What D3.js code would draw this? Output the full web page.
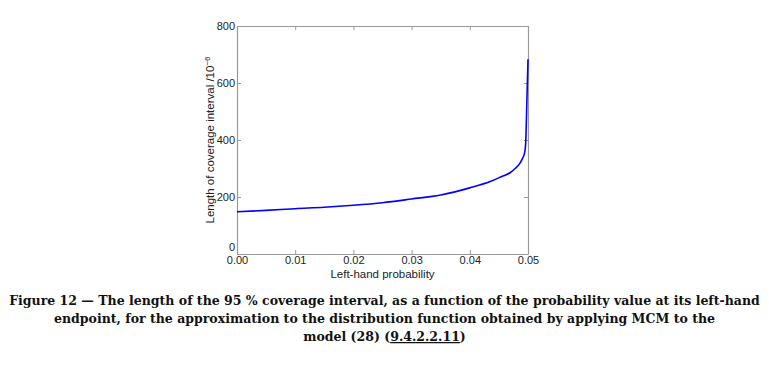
<!DOCTYPE html>
<html>
<head>
<meta charset="utf-8">
<script src="https://cdn.jsdelivr.net/npm/d3@7"></script>
<style>
  body { margin: 0; background: #fff; }
  #viz { width: 769px; height: 380px; }
</style>
</head>
<body>
<div id="viz"></div>
<script>
// -----------------------------
// DATA
// -----------------------------
const probs   = [0, 0.005, 0.01, 0.015, 0.02, 0.025, 0.03, 0.035, 0.04, 0.0435,
                 0.0455, 0.0469, 0.0478, 0.0486, 0.049, 0.0493, 0.0495, 0.0496, 0.0498, 0.05];
const lengths = [148, 153, 159, 164, 171, 180, 193, 207, 232, 254,
                 272, 285, 300, 318, 333, 347, 365, 389, 530, 683];
const xTicks = [0, 0.01, 0.02, 0.03, 0.04, 0.05];
const yTicks = [0, 200, 400, 600, 800];
const captionLines = [
  "Figure 12 — The length of the 95 % coverage interval, as a function of the probability value at its left-hand",
  "endpoint, for the approximation to the distribution function obtained by applying MCM to the",
  "model (28) ("
];
const captionRef = "9.4.2.2.11";

const width = 769, height = 380;
const plot = { left: 237, right: 528, top: 26, bottom: 254 };

const svg = d3.select("#viz")
  .append("svg")
  .attr("width", width)
  .attr("height", height)
  .style("display", "block");

const x = d3.scaleLinear().domain([0, 0.05]).range([plot.left, plot.right]);
const y = d3.scaleLinear().domain([0, 800]).range([plot.bottom, plot.top]);

const axisColor = "#9a9a9a";
const font = "'Liberation Sans', Arial, sans-serif";

// -----------------------------
// AXES (ticks inside, MATLAB style)
// -----------------------------
const gx = svg.append("g")
  .attr("transform", `translate(0,${plot.bottom})`)
  .call(d3.axisBottom(x).tickValues(xTicks).tickFormat(d3.format(".2f")).tickSizeInner(-4).tickSizeOuter(0).tickPadding(4));

const gy = svg.append("g")
  .attr("transform", `translate(${plot.left},0)`)
  .call(d3.axisLeft(y).tickValues(yTicks).tickSizeInner(-4).tickSizeOuter(0).tickPadding(2));

const gxTop = svg.append("g")
  .attr("transform", `translate(0,${plot.top})`)
  .call(d3.axisTop(x).tickValues(xTicks).tickFormat("").tickSizeInner(-4).tickSizeOuter(0));

const gyRight = svg.append("g")
  .attr("transform", `translate(${plot.right},0)`)
  .call(d3.axisRight(y).tickValues(yTicks).tickFormat("").tickSizeInner(-4).tickSizeOuter(0));

[gx, gy, gxTop, gyRight].forEach(g => {
  g.select(".domain").attr("stroke", axisColor).attr("stroke-width", 1.2);
  g.selectAll(".tick line").attr("stroke", axisColor);
  g.selectAll("text")
    .attr("fill", "#222")
    .style("font-family", font)
    .style("font-size", "11px");
});
// "0" sits just above the "0.00" label
gy.selectAll(".tick text").filter(d => d === 0).attr("dy", "-0.3em");
gx.selectAll(".tick text").attr("dy", "0.5em");

// -----------------------------
// CURVE
// -----------------------------
const data = probs.map((p, i) => ({ p, v: lengths[i] }));
const line = d3.line()
  .x(d => x(d.p))
  .y(d => y(d.v))
  .curve(d3.curveMonotoneX);

svg.append("path")
  .datum(data)
  .attr("fill", "none")
  .attr("stroke", "#0000ff")
  .attr("stroke-width", 1.6)
  .attr("d", line);

// -----------------------------
// AXIS TITLES
// -----------------------------
svg.append("text")
  .attr("x", (plot.left + plot.right) / 2)
  .attr("y", 278)
  .attr("text-anchor", "middle")
  .style("font-family", font)
  .style("font-size", "11.5px")
  .attr("fill", "#222")
  .text("Left-hand probability");

const yTitle = svg.append("text")
  .attr("transform", `translate(214,${(plot.top + plot.bottom) / 2}) rotate(-90)`)
  .attr("text-anchor", "middle")
  .style("font-family", font)
  .style("font-size", "11.5px")
  .attr("fill", "#222");
yTitle.append("tspan").text("Length of coverage interval /10");
yTitle.append("tspan").attr("dy", "-0.45em").style("font-size", "8px").text("−6");

// -----------------------------
// CAPTION
// -----------------------------
const capFont = "'DejaVu Serif', 'Liberation Serif', serif";
const capY = [305, 323, 341];
const capTexts = captionLines.map((t, i) => {
  const txt = svg.append("text")
    .attr("x", width / 2)
    .attr("y", capY[i])
    .attr("text-anchor", "middle")
    .style("font-family", capFont)
    .style("font-size", "12px")
    .style("font-weight", "bold")
    .attr("fill", "#111");
  txt.append("tspan").text(t);
  if (i === 2) {
    txt.append("tspan").style("text-decoration", "underline").text(captionRef);
    txt.append("tspan").text(")");
  }
  return txt;
});
// fit first caption line to the width it has in the figure (~752px)
const w0 = capTexts[0].node().getComputedTextLength();
const capSize = 12 * 752 / w0;
capTexts.forEach(t => t.style("font-size", capSize + "px"));
</script>
</body>
</html>
